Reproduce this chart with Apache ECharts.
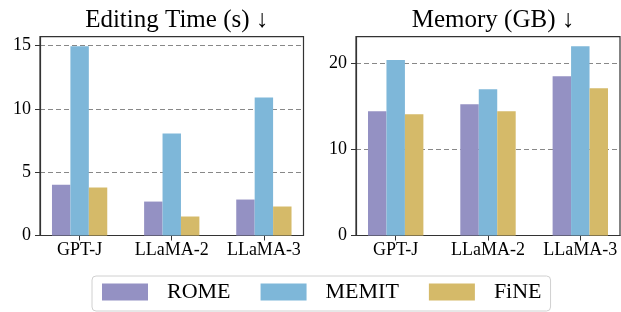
<!DOCTYPE html>
<html>
<head>
<meta charset="utf-8">
<script src="https://cdn.jsdelivr.net/npm/echarts@6/dist/echarts.min.js"></script>
<style>
html,body{margin:0;padding:0;background:#fff;}
#chart{width:621px;height:312px;}
</style>
</head>
<body>
<div id="chart"></div>
<script>
// ---- data ----
const categories = ['GPT-J', 'LLaMA-2', 'LLaMA-3'];
const methods = ['ROME', 'MEMIT', 'FiNE'];
const timeROME  = [4.0, 2.68, 2.84];
const timeMEMIT = [14.95, 8.05, 10.9];
const timeFiNE  = [3.79, 1.5, 2.29];
const memROME   = [14.43, 15.25, 18.5];
const memMEMIT  = [20.38, 17.0, 22.0];
const memFiNE   = [14.08, 14.43, 17.12];
const timeTicks = [0, 5, 10, 15];
const memTicks  = [0, 10, 20];
const titles = ['Editing Time (s) \u2193', 'Memory (GB) \u2193'];

// ---- styles ----
const colors = ['#9491C3', '#7EB7D9', '#D5BA69'];
const FONT = '"Liberation Serif", "Times New Roman", serif';
const catIdx = categories.map((c, i) => i);

function pairs(vals) { return vals.map((v, i) => [i, v]); }

function xAxisFor(gridIndex) {
  return {
    type: 'value', gridIndex: gridIndex, min: -0.43, max: 2.43,
    axisLine: { show: true, onZero: false, lineStyle: { color: '#333', width: 1.2 } },
    axisTick: { show: true, customValues: catIdx, length: 5, lineStyle: { color: '#333', width: 1 } },
    axisLabel: { customValues: catIdx, formatter: v => categories[Math.round(v)],
      fontFamily: FONT, fontSize: 18, color: '#000', margin: 6 },
    splitLine: { show: false }
  };
}
function yAxisFor(gridIndex, max, ticks) {
  return {
    type: 'value', gridIndex: gridIndex, min: 0, max: max,
    axisLine: { show: true, onZero: false, lineStyle: { color: '#333', width: 1.2 } },
    axisTick: { show: true, customValues: ticks, length: 5, lineStyle: { color: '#333', width: 1 } },
    axisLabel: { customValues: ticks, fontFamily: FONT, fontSize: 18, color: '#000', margin: 9 },
    splitLine: { show: true, lineStyle: { color: '#888', type: [5, 3], width: 1 } }
  };
}
function barSeries(name, vals, idx, color) {
  return {
    name: name, type: 'bar', xAxisIndex: idx, yAxisIndex: idx,
    data: pairs(vals), barWidth: '20%', barGap: '0%',
    itemStyle: { color: color }, animation: false
  };
}

const chart = echarts.init(document.getElementById('chart'), null, { renderer: 'canvas' });
chart.setOption({
  animation: false,
  title: [
    { text: titles[0], left: 171.7, top: 3, textAlign: 'center',
      textStyle: { fontFamily: FONT, fontSize: 25, fontWeight: 'normal', color: '#000' } },
    { text: titles[1], left: 488, top: 3, textAlign: 'center',
      textStyle: { fontFamily: FONT, fontSize: 25, fontWeight: 'normal', color: '#000' } }
  ],
  grid: [
    { left: 40, top: 36.7, width: 263.5, height: 198.8, show: true, borderColor: '#333', borderWidth: 1.2, backgroundColor: 'transparent' },
    { left: 356, top: 36.7, width: 264, height: 198.8, show: true, borderColor: '#333', borderWidth: 1.2, backgroundColor: 'transparent' }
  ],
  xAxis: [xAxisFor(0), xAxisFor(1)],
  yAxis: [yAxisFor(0, 15.7, timeTicks), yAxisFor(1, 23.1, memTicks)],
  legend: {
    data: methods, left: 92, top: 276,
    itemWidth: 46, itemHeight: 17, itemGap: 30,
    icon: 'rect',
    padding: [5, 9, 8, 10],
    borderColor: '#d0d0d0', borderWidth: 1, borderRadius: 4,
    textStyle: { fontFamily: FONT, fontSize: 22, color: '#000', padding: [0, 0, 0, 14] }
  },
  series: [
    barSeries(methods[0], timeROME, 0, colors[0]),
    barSeries(methods[1], timeMEMIT, 0, colors[1]),
    barSeries(methods[2], timeFiNE, 0, colors[2]),
    barSeries(methods[0], memROME, 1, colors[0]),
    barSeries(methods[1], memMEMIT, 1, colors[1]),
    barSeries(methods[2], memFiNE, 1, colors[2])
  ]
});
</script>
</body>
</html>
